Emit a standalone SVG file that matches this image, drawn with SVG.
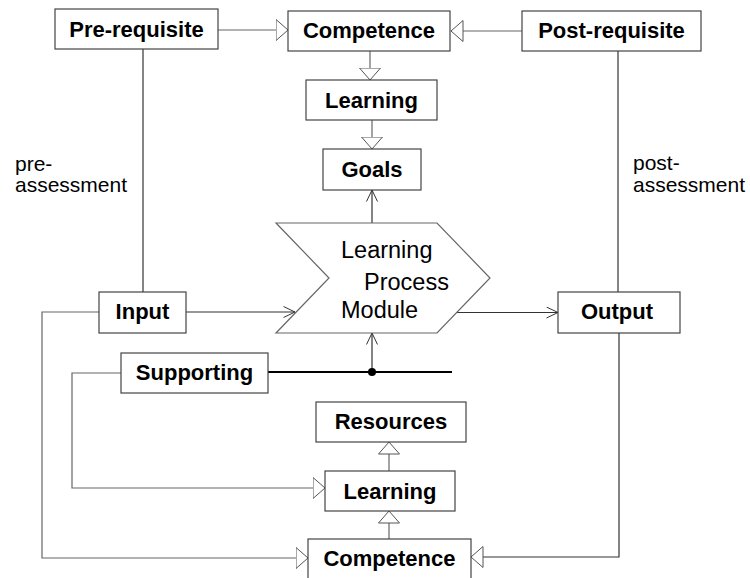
<svg xmlns="http://www.w3.org/2000/svg" width="750" height="578" viewBox="0 0 750 578">
<style>
.box{fill:#fff;stroke:#444;stroke-width:1.2}
.lbl{font-family:"Liberation Sans",Arial,sans-serif;font-weight:bold;font-size:22px;fill:#000;text-anchor:middle}
.txt{font-family:"Liberation Sans",Arial,sans-serif;font-size:21px;fill:#000}
.big{font-size:23.5px}
.ln{fill:none;stroke:#333;stroke-width:1.2}
.gr{fill:none;stroke:#666;stroke-width:1.2}
.hol{marker-end:url(#hollow)}
.opn{marker-end:url(#open)}
</style>
<defs>
<marker id="hollow" markerUnits="userSpaceOnUse" viewBox="0 0 13 22" refX="12.5" refY="11" markerWidth="13" markerHeight="22" orient="auto">
<path d="M0.5,0.5 L12.5,11 L0.5,21.5 Z" fill="#fff" stroke="#555" stroke-width="1"/>
</marker>
<marker id="open" markerUnits="userSpaceOnUse" viewBox="0 0 13 12" refX="12" refY="6" markerWidth="13" markerHeight="12" orient="auto">
<path d="M0.5,0.5 L12,6 L0.5,11.5" fill="none" stroke="#333" stroke-width="1"/>
</marker>
</defs>
<rect width="750" height="578" fill="#fff"/>
<g id="connectors">
<path class="gr hol" d="M218,30 H288"/>
<path class="gr hol" d="M522,31 H451"/>
<path class="gr hol" d="M370,51 V80"/>
<path class="gr hol" d="M372,120 V149"/>
<path class="ln opn" d="M372,223 V190"/>
<path class="ln" d="M143,49 V292"/>
<path class="ln" d="M618,51 V292"/>
<path class="ln opn" d="M186,312 H295"/>
<path class="ln opn" d="M457,312.5 H558"/>
<path fill="none" stroke="#000" stroke-width="2" d="M268,372 H452"/>
<path class="ln opn" d="M372,372 V333"/>
<circle cx="372" cy="372" r="4" fill="#000"/>
<path class="gr hol" d="M121,373 H72 V488 H325"/>
<path class="gr hol" d="M99,312 H42 V558 H308"/>
<path class="ln hol" d="M619,333 V557 H471"/>
<path class="gr hol" d="M389,539 V511"/>
<path class="gr hol" d="M389,471 V442"/>
</g>
<g id="prerequisite"><rect class="box" x="55" y="9" width="163" height="40"/><text class="lbl" x="136.5" y="36.5">Pre-requisite</text></g>
<g id="competence-top"><rect class="box" x="288" y="11" width="162" height="40"/><text class="lbl" x="369" y="38">Competence</text></g>
<g id="postrequisite"><rect class="box" x="522" y="11" width="179" height="40"/><text class="lbl" x="611.5" y="38">Post-requisite</text></g>
<g id="learning-top"><rect class="box" x="306" y="80" width="131" height="40"/><text class="lbl" x="371.5" y="107.5">Learning</text></g>
<g id="goals"><rect class="box" x="323" y="149" width="98" height="41"/><text class="lbl" x="372" y="177">Goals</text></g>
<g id="pre-assessment"><text class="txt" x="15" y="171">pre-</text><text class="txt" x="15" y="192">assessment</text></g>
<g id="post-assessment"><text class="txt" x="633" y="170">post-</text><text class="txt" x="633" y="192">assessment</text></g>
<g id="lpm">
<polygon points="276,223 437,223 490,278 437,333 276,333 329,278" fill="#fff" stroke="#666" stroke-width="1.2"/>
<text class="txt big" x="341" y="258">Learning</text>
<text class="txt big" x="364" y="290">Process</text>
<text class="txt big" x="341" y="318">Module</text>
</g>
<g id="input"><rect class="box" x="99" y="292" width="87" height="41"/><text class="lbl" x="142.5" y="319">Input</text></g>
<g id="output"><rect class="box" x="558" y="292" width="122" height="41"/><text class="lbl" x="617" y="319">Output</text></g>
<g id="supporting"><rect class="box" x="121" y="353" width="147" height="40"/><text class="lbl" x="194.5" y="380">Supporting</text></g>
<g id="resources"><rect class="box" x="316" y="402" width="150" height="40"/><text class="lbl" x="391" y="428.5">Resources</text></g>
<g id="learning-bottom"><rect class="box" x="325" y="471" width="130" height="40"/><text class="lbl" x="390" y="498.5">Learning</text></g>
<g id="competence-bottom"><rect class="box" x="308" y="539" width="163" height="60"/><text class="lbl" x="389.5" y="566">Competence</text></g>
</svg>
